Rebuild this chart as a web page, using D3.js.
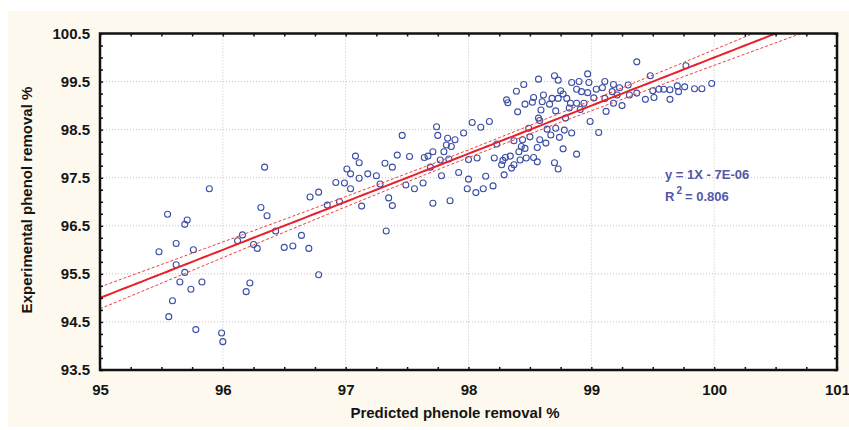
<!DOCTYPE html>
<html>
<head>
<meta charset="utf-8">
<script src="https://cdn.jsdelivr.net/npm/d3@7"></script>
<style>
  body { margin: 0; background: #ffffff; }
  text { font-family: "Liberation Sans", Arial, sans-serif; }
</style>
</head>
<body>
<div id="chart"></div>
<script>
// values: predicted (x) vs experimental (y) phenol removal %
const predicted = [
  95.89, 95.55, 95.71, 95.69, 95.62, 95.48, 95.76, 95.62, 95.69, 95.65, 95.83, 95.74, 95.59, 95.56, 95.78, 95.99, 96.00, 96.16, 96.12, 96.25,
  96.28, 96.31, 96.36, 96.43, 96.50, 96.57, 96.64, 96.70, 96.78, 96.22, 96.19, 96.71, 96.78, 96.85, 96.92, 96.95, 96.34,
  97.74, 97.75, 98.03, 98.10, 98.17, 97.96, 97.46, 97.83, 97.89, 97.82, 97.86, 97.80, 97.71, 97.67, 97.64, 97.77, 97.84, 97.42, 97.52, 97.08,
  97.11, 97.32, 97.38, 97.01, 97.04, 97.11, 97.18, 97.25, 96.99, 97.04, 97.28, 97.49, 97.56, 97.63, 97.69, 97.78, 97.92, 98.00, 97.99, 98.06,
  98.12, 98.14, 98.07, 98.00, 97.13, 97.35, 97.38, 97.71, 97.85, 97.33,
  98.97, 98.70, 98.73, 98.57, 98.45, 98.39, 98.84, 98.90, 98.98, 98.88, 98.92, 98.97, 99.04, 98.75, 98.77, 98.61, 98.53, 98.68, 98.73, 98.80,
  98.31, 98.32, 98.60, 98.46, 98.52, 98.66, 98.83, 98.88, 98.94, 99.02, 98.40, 98.59, 98.71, 98.82, 98.91, 98.57, 98.58, 98.79, 98.99, 99.06,
  98.49, 98.64, 98.71, 98.78, 98.84, 98.74, 98.67, 98.58, 98.63, 98.56, 98.77, 98.88, 98.23, 98.37, 98.44, 98.43, 98.46, 98.41, 98.34, 98.30,
  98.21, 98.28, 98.42, 98.47, 98.53, 98.56, 98.37, 98.27, 98.35, 98.70, 98.73, 98.29, 98.20, 98.50,
  99.37, 99.77, 99.48, 99.11, 99.09, 99.18, 99.23, 99.30, 99.17, 99.21, 99.11, 99.31, 99.37, 99.50, 99.55, 99.59, 99.64, 99.70, 99.71, 99.76,
  99.84, 99.90, 99.98, 99.44, 99.51, 99.64, 99.18, 99.25, 99.12
];
const experimental = [
  97.27, 96.74, 96.62, 96.53, 96.13, 95.96, 96.00, 95.69, 95.53, 95.33, 95.33, 95.18, 94.94, 94.61, 94.34, 94.27, 94.09, 96.31, 96.19, 96.11,
  96.03, 96.88, 96.71, 96.39, 96.05, 96.08, 96.30, 96.03, 95.48, 95.31, 95.13, 97.10, 97.20, 96.93, 97.40, 97.00, 97.72,
  98.56, 98.38, 98.65, 98.55, 98.67, 98.43, 98.38, 98.32, 98.29, 98.18, 98.15, 98.04, 98.04, 97.95, 97.92, 97.87, 97.89, 97.97, 97.94, 97.95,
  97.81, 97.80, 97.72, 97.68, 97.58, 97.49, 97.58, 97.54, 97.39, 97.27, 97.37, 97.35, 97.27, 97.39, 97.72, 97.54, 97.61, 97.47, 97.27, 97.19,
  97.27, 97.53, 97.91, 97.88, 96.91, 97.08, 96.92, 96.97, 97.02, 96.39,
  99.66, 99.62, 99.53, 99.55, 99.44, 99.30, 99.48, 99.50, 99.48, 99.34, 99.29, 99.27, 99.34, 99.31, 99.24, 99.22, 99.17, 99.15, 99.15, 99.15,
  99.12, 99.06, 99.08, 99.03, 99.07, 99.03, 99.05, 99.05, 99.05, 99.16, 98.87, 98.91, 98.89, 98.95, 98.92, 98.74, 98.69, 98.74, 98.67, 98.44,
  98.53, 98.51, 98.53, 98.49, 98.43, 98.34, 98.39, 98.29, 98.22, 98.13, 98.10, 97.99, 98.20, 98.27, 98.29, 98.15, 98.11, 98.04, 97.95, 97.92,
  97.91, 97.86, 97.87, 97.91, 97.92, 97.83, 97.77, 97.77, 97.70, 97.81, 97.68, 97.56, 97.33, 98.35,
  99.91, 99.83, 99.62, 99.50, 99.37, 99.44, 99.37, 99.43, 99.29, 99.22, 99.15, 99.22, 99.26, 99.31, 99.34, 99.34, 99.33, 99.41, 99.29, 99.39,
  99.35, 99.35, 99.46, 99.13, 99.17, 99.13, 99.05, 99.00, 98.88
];

const xTicks = [95, 96, 97, 98, 99, 100, 101];
const yTicks = [93.5, 94.5, 95.5, 96.5, 97.5, 98.5, 99.5, 100.5];
const xDomain = [95, 101];
const yDomain = [93.5, 100.5];

// regression shown in the chart
const fitSlope = 1;
const fitIntercept = -7e-6;
const fitLabel = "y = 1X - 7E-06";
const rSquaredText = "0.806";

function init() {
  var w = 849, h = 430;
  var margin = { top: 33.5, right: 12, bottom: 60, left: 100 };
  var plotW = 837 - margin.left;
  var plotH = 370 - margin.top;

  var dataset = predicted.map(function (d, i) {
    return { x: d, y: experimental[i] };
  });

  var svg = d3.select("#chart").append("svg")
    .attr("width", w)
    .attr("height", h);

  // cream panel behind the chart
  svg.append("rect")
    .attr("x", 8).attr("y", 11)
    .attr("width", w - 8).attr("height", 416)
    .attr("fill", "#fdf9ee");

  var g = svg.append("g")
    .attr("transform", "translate(" + margin.left + "," + margin.top + ")");

  var xScale = d3.scaleLinear().domain(xDomain).range([0, plotW]);
  var yScale = d3.scaleLinear().domain(yDomain).range([plotH, 0]);

  g.append("rect")
    .attr("width", plotW).attr("height", plotH)
    .attr("fill", "#ffffff");

  g.append("clipPath").attr("id", "plot-clip")
    .append("rect").attr("width", plotW).attr("height", plotH);

  // dotted grid
  g.selectAll(".vgrid")
    .data(xTicks.slice(1, -1))
    .enter().append("line")
    .attr("x1", function (d) { return xScale(d); })
    .attr("x2", function (d) { return xScale(d); })
    .attr("y1", 0).attr("y2", plotH)
    .attr("stroke", "#c4c4c4").attr("stroke-width", 1)
    .attr("stroke-dasharray", "1,2");

  g.selectAll(".hgrid")
    .data(yTicks.slice(1, -1))
    .enter().append("line")
    .attr("y1", function (d) { return yScale(d); })
    .attr("y2", function (d) { return yScale(d); })
    .attr("x1", 0).attr("x2", plotW)
    .attr("stroke", "#c4c4c4").attr("stroke-width", 1)
    .attr("stroke-dasharray", "1,2");

  // confidence band of the fit, from the data
  var n = dataset.length;
  var xbar = d3.mean(dataset, function (d) { return d.x; });
  var sxx = d3.sum(dataset, function (d) { return (d.x - xbar) * (d.x - xbar); });
  var sse = d3.sum(dataset, function (d) {
    var r = d.y - (fitSlope * d.x + fitIntercept);
    return r * r;
  });
  var s = Math.sqrt(sse / (n - 2));
  var tval = 1.97;
  function halfWidth(x) {
    return tval * s * Math.sqrt(1 / n + (x - xbar) * (x - xbar) / sxx);
  }

  var xs = d3.range(xDomain[0], xDomain[1] + 0.001, 0.05);
  var clip = g.append("g").attr("clip-path", "url(#plot-clip)");

  var fitLine = d3.line()
    .x(function (d) { return xScale(d); })
    .y(function (d) { return yScale(fitSlope * d + fitIntercept); });
  var upperLine = d3.line()
    .x(function (d) { return xScale(d); })
    .y(function (d) { return yScale(fitSlope * d + fitIntercept + halfWidth(d)); });
  var lowerLine = d3.line()
    .x(function (d) { return xScale(d); })
    .y(function (d) { return yScale(fitSlope * d + fitIntercept - halfWidth(d)); });

  // points
  clip.selectAll("circle")
    .data(dataset)
    .enter().append("circle")
    .attr("cx", function (d) { return xScale(d.x); })
    .attr("cy", function (d) { return yScale(d.y); })
    .attr("r", 3)
    .attr("fill", "none")
    .attr("stroke", "#3b4ea6")
    .attr("stroke-width", 1.1);

  clip.append("path").datum(xs).attr("d", upperLine)
    .attr("fill", "none").attr("stroke", "#f03a3a")
    .attr("stroke-width", 1).attr("stroke-dasharray", "3,2");
  clip.append("path").datum(xs).attr("d", lowerLine)
    .attr("fill", "none").attr("stroke", "#f03a3a")
    .attr("stroke-width", 1).attr("stroke-dasharray", "3,2");
  clip.append("path").datum(xs).attr("d", fitLine)
    .attr("fill", "none").attr("stroke", "#e8202a")
    .attr("stroke-width", 2);

  // minor ticks pointing inward on all four sides
  var xMinor = d3.range(95, 101.001, 0.25);
  var yMinor = d3.range(93.5, 100.501, 0.25);

  var bottomTicks = g.append("g").attr("transform", "translate(0," + plotH + ")")
    .call(d3.axisBottom(xScale).tickValues(xMinor).tickSize(-3).tickFormat(""));
  var topTicks = g.append("g")
    .call(d3.axisTop(xScale).tickValues(xMinor).tickSize(-3).tickFormat(""));
  var leftTicks = g.append("g")
    .call(d3.axisLeft(yScale).tickValues(yMinor).tickSize(-3).tickFormat(""));
  var rightTicks = g.append("g").attr("transform", "translate(" + plotW + ",0)")
    .call(d3.axisRight(yScale).tickValues(yMinor).tickSize(-3).tickFormat(""));
  [bottomTicks, topTicks, leftTicks, rightTicks].forEach(function (a) {
    a.select(".domain").remove();
    a.selectAll("line").attr("stroke", "#111").attr("stroke-width", 1.5);
  });

  // frame
  g.append("rect")
    .attr("width", plotW).attr("height", plotH)
    .attr("fill", "none").attr("stroke", "#111").attr("stroke-width", 2.5);

  // tick labels
  var xAxis = g.append("g").attr("transform", "translate(0," + plotH + ")")
    .call(d3.axisBottom(xScale).tickValues(xTicks).tickSize(0).tickPadding(14)
      .tickFormat(d3.format("d")));
  var yAxis = g.append("g")
    .call(d3.axisLeft(yScale).tickValues(yTicks).tickSize(0).tickPadding(10)
      .tickFormat(d3.format(".1f")));
  [xAxis, yAxis].forEach(function (a) {
    a.select(".domain").remove();
    a.selectAll("text")
      .style("font-family", "'Liberation Sans', Arial, sans-serif")
      .style("font-size", "15px")
      .style("font-weight", "bold")
      .attr("fill", "#151515");
  });

  // axis titles
  svg.append("text")
    .attr("x", 455).attr("y", 418)
    .attr("text-anchor", "middle")
    .style("font-size", "15px").style("font-weight", "bold")
    .attr("fill", "#151515")
    .text("Predicted phenole removal %");

  svg.append("text")
    .attr("transform", "translate(32,200) rotate(-90)")
    .attr("text-anchor", "middle")
    .style("font-size", "15px").style("font-weight", "bold")
    .attr("fill", "#151515")
    .text("Experimental phenol removal %");

  // regression annotation
  svg.append("text")
    .attr("x", 665).attr("y", 179)
    .style("font-size", "13px").style("font-weight", "bold")
    .attr("fill", "#5257a8")
    .text(fitLabel);

  var r2 = svg.append("text")
    .attr("x", 665).attr("y", 201)
    .style("font-size", "13px").style("font-weight", "bold")
    .attr("fill", "#5257a8");
  r2.append("tspan").text("R");
  r2.append("tspan").attr("dx", 2).attr("dy", -7).style("font-size", "10px").text("2");
  r2.append("tspan").attr("dx", 3).attr("dy", 7).text("= " + rSquaredText);
}

window.onload = init;
</script>
</body>
</html>
